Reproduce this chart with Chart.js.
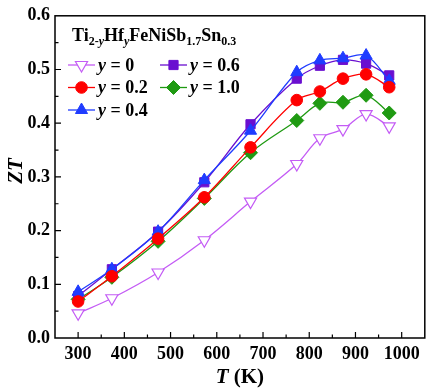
<!DOCTYPE html>
<html lang="en">
<head>
    <meta charset="UTF-8">
    <title>ZT vs T</title>
    <style>
        * { margin: 0; padding: 0; box-sizing: border-box; }
        body { background: #fff; }
        #wrap { width: 433px; height: 390px; }
    </style>
    <script src="https://cdn.jsdelivr.net/npm/chart.js"></script>
</head>
<body>
    <div id="wrap"><canvas id="zt"></canvas></div>
    <script>
        // temperatures (K)
        const temps = [300, 373, 473, 573, 673, 773, 823, 873, 923, 973];
        const zt_y00 = [0.046, 0.074, 0.122, 0.182, 0.254, 0.324, 0.372, 0.389, 0.417, 0.394];
        const zt_y02 = [0.068, 0.115, 0.185, 0.262, 0.355, 0.443, 0.459, 0.483, 0.491, 0.467];
        const zt_y04 = [0.086, 0.128, 0.198, 0.294, 0.386, 0.495, 0.517, 0.521, 0.526, 0.479];
        const zt_y06 = [0.078, 0.128, 0.198, 0.290, 0.398, 0.483, 0.507, 0.518, 0.511, 0.489];
        const zt_y10 = [0.072, 0.113, 0.180, 0.260, 0.345, 0.405, 0.437, 0.439, 0.452, 0.419];
        const seriesLabels = ['y = 0', 'y = 0.2', 'y = 0.4', 'y = 0.6', 'y = 1.0'];
        const xTicks = [300, 400, 500, 600, 700, 800, 900, 1000];
        const yTicks = [0, 0.1, 0.2, 0.3, 0.4, 0.5, 0.6];

        const SERIF = '"Liberation Serif", "DejaVu Serif", serif';

        function pts(vals) {
            return temps.map((t, i) => ({ x: t, y: vals[i] }));
        }

        function ds(label, vals, color, style, opts) {
            return Object.assign({
                label: label,
                data: pts(vals),
                borderColor: color,
                backgroundColor: color,
                pointBackgroundColor: color,
                pointBorderColor: color,
                pointStyle: style,
                pointRadius: 6,
                pointBorderWidth: 1,
                borderWidth: 1.3,
                tension: 0.35,
                fill: false,
            }, opts || {});
        }

        const datasets = [
            ds(seriesLabels[0], zt_y00, '#c45cf5', 'triangle', { pointBackgroundColor: '#ffffff', pointRotation: 180, pointRadius: 7, pointBorderWidth: 1.2 }),
            ds(seriesLabels[1], zt_y02, '#ff0000', 'circle', { pointRadius: 5.8 }),
            ds(seriesLabels[2], zt_y04, '#1f3cff', 'triangle', { pointRadius: 7 }),
            ds(seriesLabels[3], zt_y06, '#6a0fd0', 'rect', { pointRadius: 6.5 }),
            ds(seriesLabels[4], zt_y10, '#1f9a12', 'rectRot', { pointRadius: 7 }),
        ];

        // frame, inward ticks, axis titles, legend
        const decor = {
            id: 'decor',
            afterDraw(chart) {
                const ctx = chart.ctx;
                const a = chart.chartArea;
                const xs = chart.scales.x, ys = chart.scales.y;
                ctx.save();
                ctx.strokeStyle = '#000';
                ctx.lineWidth = 1.5;
                ctx.strokeRect(a.left, a.top, a.right - a.left, a.bottom - a.top);

                ctx.lineWidth = 1.2;
                ctx.beginPath();
                for (let v = 250; v <= 1050; v += 50) {
                    const px = xs.getPixelForValue(v);
                    if (px <= a.left + 1 || px >= a.right - 1) continue;
                    const len = v % 100 === 0 ? 6 : 3.5;
                    ctx.moveTo(px, a.bottom);
                    ctx.lineTo(px, a.bottom - len);
                }
                for (let k = 1; k < 12; k++) {
                    const v = k * 0.05;
                    const py = ys.getPixelForValue(v);
                    const len = k % 2 === 0 ? 6 : 3.5;
                    ctx.moveTo(a.left, py);
                    ctx.lineTo(a.left + len, py);
                }
                ctx.stroke();

                // y title
                ctx.fillStyle = '#000';
                ctx.textAlign = 'center';
                ctx.textBaseline = 'middle';
                ctx.save();
                ctx.translate(17, 171);
                ctx.rotate(-Math.PI / 2);
                ctx.font = 'italic bold 21px ' + SERIF;
                ctx.fillText('ZT', 0, 0);
                ctx.restore();

                // x title: T (K)
                ctx.textAlign = 'left';
                ctx.textBaseline = 'alphabetic';
                const fI = 'italic bold 21px ' + SERIF, fB = 'bold 21px ' + SERIF;
                ctx.font = fI; const w1 = ctx.measureText('T ').width;
                ctx.font = fB; const w2 = ctx.measureText('(K)').width;
                let x0 = (a.left + a.right) / 2 - (w1 + w2) / 2;
                const yb = 383;
                ctx.font = fI; ctx.fillText('T ', x0, yb);
                ctx.font = fB; ctx.fillText('(K)', x0 + w1, yb);

                // legend title with subscripts
                const parts = [['Ti', 0], ['2-', 1], ['y', 2], ['Hf', 0], ['y', 2], ['FeNiSb', 0], ['1.7', 1], ['Sn', 0], ['0.3', 1]];
                let tx = 72;
                const tb = 41;
                parts.forEach(p => {
                    if (p[1] === 0) { ctx.font = 'bold 18px ' + SERIF; ctx.fillText(p[0], tx, tb); }
                    else if (p[1] === 1) { ctx.font = 'bold 12px ' + SERIF; ctx.fillText(p[0], tx, tb + 4); }
                    else { ctx.font = 'italic bold 12px ' + SERIF; ctx.fillText(p[0], tx, tb + 4); }
                    tx += ctx.measureText(p[0]).width;
                });

                // legend entries
                const slots = [[68, 65], [68, 87.5], [68, 110], [160, 65], [160, 87.5]];
                datasets.forEach((d, i) => {
                    const [lx, ly] = slots[i];
                    ctx.strokeStyle = d.borderColor;
                    ctx.lineWidth = d.borderWidth;
                    ctx.beginPath();
                    ctx.moveTo(lx, ly);
                    ctx.lineTo(lx + 27, ly);
                    ctx.stroke();
                    ctx.fillStyle = d.pointBackgroundColor;
                    ctx.strokeStyle = d.pointBorderColor;
                    ctx.lineWidth = d.pointBorderWidth;
                    Chart.helpers.drawPoint(ctx, {
                        pointStyle: d.pointStyle,
                        rotation: d.pointRotation || 0,
                        radius: d.pointRadius,
                        borderWidth: d.pointBorderWidth,
                    }, lx + 13.5, ly);
                    ctx.fillStyle = '#000';
                    ctx.textBaseline = 'middle';
                    const txt = d.label.split(' = ');
                    let ex = lx + 30;
                    ctx.font = 'italic bold 18px ' + SERIF;
                    ctx.fillText(txt[0], ex, ly + 1);
                    ex += ctx.measureText(txt[0]).width;
                    ctx.font = 'bold 18px ' + SERIF;
                    ctx.fillText(' = ' + txt[1], ex, ly + 1);
                    ctx.textBaseline = 'alphabetic';
                });
                ctx.restore();
            }
        };

        new Chart(document.getElementById('zt'), {
            type: 'line',
            data: { datasets: datasets },
            options: {
                responsive: true,
                maintainAspectRatio: false,
                animation: false,
                layout: { padding: { top: 10, right: 3, left: 0, bottom: 0 } },
                plugins: { legend: { display: false }, tooltip: { enabled: false } },
                scales: {
                    x: {
                        type: 'linear',
                        min: 250,
                        max: 1050,
                        afterFit: s => { s.height = 52; },
                        afterBuildTicks: s => { s.ticks = xTicks.map(v => ({ value: v })); },
                        grid: { display: false, drawTicks: false },
                        border: { display: false },
                        ticks: {
                            color: '#000',
                            padding: 6,
                            maxRotation: 0,
                            callback: v => String(v),
                            font: { family: SERIF, size: 18, weight: 'bold' },
                        },
                    },
                    y: {
                        min: 0,
                        max: 0.6,
                        afterFit: s => { s.width = 55; },
                        afterBuildTicks: s => { s.ticks = yTicks.map(v => ({ value: v })); },
                        grid: { display: false, drawTicks: false },
                        border: { display: false },
                        ticks: {
                            color: '#000',
                            padding: 5,
                            callback: v => v.toFixed(1),
                            font: { family: SERIF, size: 18, weight: 'bold' },
                        },
                    },
                },
            },
            plugins: [decor],
        });
    </script>
</body>
</html>
